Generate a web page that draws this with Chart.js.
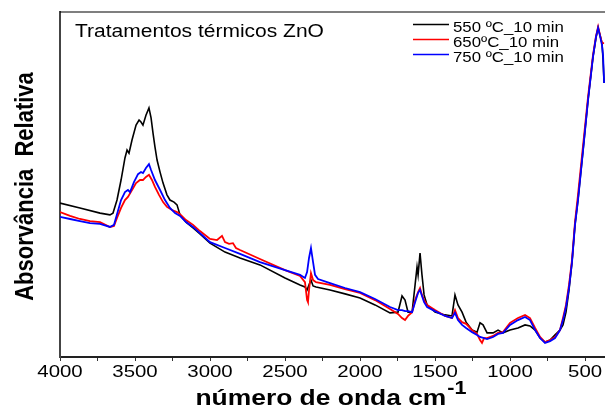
<!DOCTYPE html>
<html>
<head>
<meta charset="utf-8">
<script src="https://cdn.jsdelivr.net/npm/chart.js@4.4.0/dist/chart.umd.min.js"></script>
<style>
  body { margin: 0; background: #fff; }
  #wrap { width: 605px; height: 407px; }
</style>
</head>
<body>
<div id="wrap"><canvas id="myChart" width="605" height="407"></canvas></div>
<script>
// series labels
const seriesLabels = ["550 ºC_10 min", "650ºC_10 min", "750 ºC_10 min"];
const chartTitle = "Tratamentos térmicos ZnO";

// x axis ticks (labelled every 500, small marks every 250)
const majorTicks = [4000, 3500, 3000, 2500, 2000, 1500, 1000, 500];
const minorTicks = [3750, 3250, 2750, 2250, 1750, 1250, 750];

// 550 ºC (black) - wavenumber / relative absorbance
const wnBlack = [4000,3867,3733,3667,3647,3620,3593,3567,3553,3540,3520,3493,3473,3460,3447,3427,3407,3393,3380,3367,3353,3333,3313,3287,3267,3240,3220,3200,3160,3113,3067,3000,2900,2800,2667,2500,2400,2367,2353,2340,2327,2313,2293,2200,2100,2000,1900,1800,1747,1720,1700,1680,1653,1633,1620,1613,1600,1587,1573,1553,1500,1433,1387,1367,1347,1320,1293,1253,1220,1200,1180,1153,1113,1080,1047,1000,947,900,867,833,800,767,733,700,667,647,627,607,587,567,547,513,480,447,427,413,400,387,380,373];
const absBlack = [.446,.432,.417,.412,.417,.455,.513,.577,.600,.591,.629,.672,.687,.681,.672,.701,.722,.693,.649,.609,.571,.536,.504,.470,.455,.449,.441,.412,.391,.374,.357,.330,.304,.287,.267,.229,.209,.203,.194,.209,.223,.206,.203,.194,.183,.171,.151,.128,.130,.177,.165,.130,.130,.209,.261,.238,.301,.238,.180,.151,.130,.122,.119,.180,.151,.130,.101,.078,.072,.099,.093,.070,.070,.078,.070,.078,.084,.093,.090,.078,.055,.043,.049,.064,.078,.093,.130,.194,.275,.383,.455,.600,.745,.870,.925,.954,.933,.910,.861,.794];

// 650 ºC (red)
const wnRed = [4000,3933,3867,3800,3733,3667,3640,3620,3593,3567,3547,3520,3493,3467,3447,3427,3407,3387,3367,3340,3313,3287,3253,3220,3200,3160,3113,3067,3000,2953,2920,2900,2873,2847,2827,2800,2667,2500,2400,2367,2353,2347,2340,2327,2313,2293,2200,2100,2000,1900,1800,1747,1720,1700,1680,1653,1633,1613,1600,1587,1573,1553,1500,1433,1387,1367,1347,1320,1293,1253,1220,1200,1187,1173,1153,1113,1080,1047,1000,947,900,867,833,800,767,733,700,667,647,627,607,587,567,547,513,480,447,427,413,400,387,373];
const absRed = [.420,.409,.400,.394,.391,.377,.380,.403,.432,.455,.464,.484,.504,.513,.513,.522,.528,.513,.493,.470,.449,.435,.426,.420,.414,.397,.383,.365,.342,.339,.351,.333,.328,.330,.316,.310,.284,.252,.235,.217,.165,.159,.194,.243,.223,.217,.209,.197,.186,.165,.139,.125,.113,.107,.119,.130,.165,.188,.200,.180,.165,.151,.136,.119,.113,.136,.113,.101,.096,.078,.067,.049,.041,.055,.055,.061,.070,.072,.099,.113,.122,.113,.084,.058,.043,.049,.058,.078,.113,.151,.209,.281,.391,.470,.614,.754,.875,.930,.957,.933,.910,.910];

// 750 ºC (blue)
const wnBlue = [4000,3933,3867,3800,3733,3667,3640,3620,3593,3567,3547,3533,3507,3480,3460,3447,3427,3407,3393,3367,3333,3300,3267,3233,3200,3160,3113,3067,3000,2900,2800,2667,2500,2400,2367,2353,2340,2327,2313,2300,2280,2200,2100,2000,1900,1800,1747,1720,1700,1680,1653,1633,1613,1600,1587,1573,1553,1500,1433,1387,1367,1347,1320,1293,1253,1220,1200,1173,1153,1113,1080,1047,1000,947,900,867,833,800,767,733,700,667,647,627,607,587,567,547,513,480,447,427,413,400,387,380,373];
const absBlue = [.406,.400,.394,.388,.386,.377,.383,.414,.455,.478,.484,.478,.507,.530,.536,.533,.548,.559,.542,.513,.484,.455,.432,.417,.409,.391,.377,.359,.333,.316,.299,.275,.252,.238,.229,.246,.287,.316,.275,.238,.226,.214,.200,.188,.168,.145,.136,.136,.133,.133,.130,.159,.186,.194,.177,.159,.145,.133,.119,.113,.128,.107,.093,.084,.072,.064,.058,.055,.052,.058,.067,.070,.093,.107,.116,.107,.078,.055,.041,.046,.055,.078,.107,.145,.200,.275,.383,.455,.600,.745,.870,.928,.954,.930,.904,.875,.794];

const toPoints = (xs, ys) => xs.map((x, i) => ({ x: x, y: ys[i] }));

// text in the original is stretched horizontally
const STRETCH = 1.2;
function stretchedText(ctx, text, x, y, align) {
  ctx.save();
  ctx.translate(x, y);
  ctx.scale(STRETCH, 1);
  ctx.textAlign = align || "left";
  ctx.fillText(text, 0, 0);
  ctx.restore();
}

const textPlugin = {
  id: "texts",
  afterDraw(chart) {
    const ctx = chart.ctx;
    const area = chart.chartArea;
    const xs = chart.scales.x;
    ctx.save();
    ctx.fillStyle = "#000";
    ctx.textBaseline = "alphabetic";

    // top frame line
    ctx.strokeStyle = "#000";
    ctx.lineWidth = 1.2;
    ctx.beginPath();
    ctx.moveTo(area.left, area.top);
    ctx.lineTo(chart.width, area.top);
    ctx.stroke();

    // tick labels
    ctx.font = "17px 'Liberation Sans', Arial, sans-serif";
    majorTicks.forEach((v) => {
      stretchedText(ctx, String(v), xs.getPixelForValue(v), area.bottom + 20, "center");
    });

    // title inside plot
    ctx.font = "17.5px 'Liberation Sans', Arial, sans-serif";
    stretchedText(ctx, chartTitle, area.left + 15, area.top + 25, "left");

    // legend
    ctx.font = "14px 'Liberation Sans', Arial, sans-serif";
    chart.data.datasets.forEach((ds, i) => {
      const y = area.top + 20 + i * 15;
      ctx.strokeStyle = ds.borderColor;
      ctx.lineWidth = 1.5;
      ctx.beginPath();
      ctx.moveTo(413, y - 7.5);
      ctx.lineTo(449, y - 7.5);
      ctx.stroke();
      stretchedText(ctx, ds.label, 453, y, "left");
    });

    // x title with superscript
    const main = "número de onda cm";
    const sup = "-1";
    ctx.font = "bold 22px 'Liberation Sans', Arial, sans-serif";
    const wMain = ctx.measureText(main).width * STRETCH;
    ctx.font = "bold 18px 'Liberation Sans', Arial, sans-serif";
    const wSup = ctx.measureText(sup).width * STRETCH;
    const startX = (area.left + area.right) / 2 - (wMain + wSup) / 2 - 2;
    ctx.font = "bold 22px 'Liberation Sans', Arial, sans-serif";
    stretchedText(ctx, main, startX, 405, "left");
    ctx.font = "bold 18px 'Liberation Sans', Arial, sans-serif";
    stretchedText(ctx, sup, startX + wMain + 1, 394, "left");

    // y title (rotated)
    ctx.save();
    ctx.translate(33, (area.top + area.bottom) / 2 + 2);
    ctx.rotate(-Math.PI / 2);
    ctx.scale(1, STRETCH);
    ctx.font = "bold 22px 'Liberation Sans', Arial, sans-serif";
    ctx.textAlign = "center";
    ctx.fillText("Absorvância  Relativa", 0, 0);
    ctx.restore();

    ctx.restore();
  },
};

const ctx = document.getElementById("myChart");

new Chart(ctx, {
  type: "line",
  data: {
    datasets: [
      {
        label: seriesLabels[0],
        data: toPoints(wnBlack, absBlack),
        borderColor: "#000000",
        borderWidth: 1.6,
        order: 3,
      },
      {
        label: seriesLabels[1],
        data: toPoints(wnRed, absRed),
        borderColor: "#ff0000",
        borderWidth: 1.8,
        order: 2,
      },
      {
        label: seriesLabels[2],
        data: toPoints(wnBlue, absBlue),
        borderColor: "#0000ff",
        borderWidth: 1.8,
        order: 1,
      },
    ],
  },
  options: {
    responsive: false,
    animation: false,
    layout: { padding: { top: 12, right: 0, left: 0, bottom: 0 } },
    elements: { point: { radius: 0 }, line: { tension: 0 } },
    plugins: {
      legend: { display: false },
      tooltip: { enabled: false },
    },
    scales: {
      x: {
        type: "linear",
        reverse: true,
        min: 367,
        max: 4000,
        ticks: { display: false, autoSkip: false },
        afterBuildTicks: (axis) => {
          axis.ticks = majorTicks.concat(minorTicks)
            .sort((a, b) => b - a)
            .map((v) => ({ value: v }));
        },
        afterFit: (scale) => {
          scale.height = 50;
          scale.paddingLeft = 0;
          scale.paddingRight = 0;
        },
        grid: {
          drawOnChartArea: false,
          drawTicks: true,
          tickLength: 4,
          color: "#333",
        },
        border: { color: "#222", width: 2 },
      },
      y: {
        min: 0,
        max: 1,
        ticks: { display: false },
        afterFit: (scale) => {
          scale.width = 60;
        },
        grid: { drawOnChartArea: false, drawTicks: false },
        border: { color: "#444", width: 2 },
      },
    },
  },
  plugins: [textPlugin],
});
</script>
</body>
</html>
